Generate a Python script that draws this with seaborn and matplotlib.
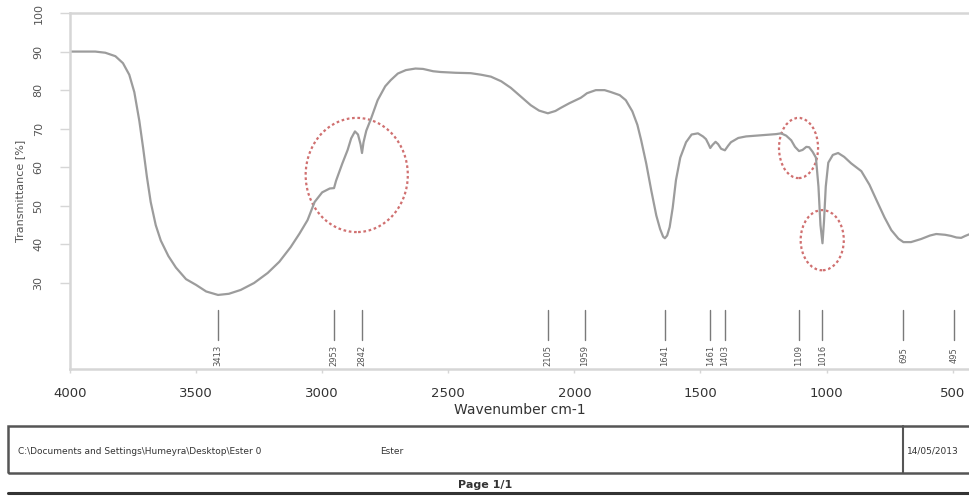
import matplotlib
matplotlib.use("Agg")
import matplotlib.pyplot as plt
from matplotlib.patches import Ellipse, Rectangle
from matplotlib.lines import Line2D
import seaborn as sns
import pandas as pd

# IR spectrum of the ester sample (wavenumber in cm-1, transmittance in %)
wavenumber = [
    4000, 3950, 3900, 3860, 3820, 3790, 3765, 3745, 3725, 3710, 3695, 3680,
    3660, 3640, 3610, 3580, 3540, 3500, 3460, 3413, 3370, 3323, 3270, 3216,
    3170, 3125, 3090, 3058, 3030, 3000, 2970, 2953, 2945, 2920, 2899, 2885,
    2870, 2858, 2848, 2842, 2836, 2825, 2808, 2780, 2750, 2728, 2700, 2668,
    2630, 2600, 2560, 2530, 2470, 2411, 2370, 2331, 2290, 2252, 2210, 2173,
    2140, 2105, 2075, 2054, 2020, 1994, 1975, 1962, 1950, 1915, 1880, 1855,
    1820, 1796, 1770, 1750, 1735, 1715, 1695, 1675, 1660, 1648, 1641, 1632,
    1622, 1610, 1597, 1580, 1557, 1535, 1510, 1490, 1478, 1468, 1461, 1452,
    1440, 1430, 1418, 1403, 1390, 1379, 1350, 1319, 1260, 1200, 1180, 1160,
    1140, 1125, 1109, 1095, 1080, 1069, 1055, 1042, 1032, 1024, 1016, 1010,
    1003, 993, 975, 954, 930, 902, 862, 830, 802, 770, 743, 715, 695, 665,
    625, 590, 565, 530, 506, 485, 466, 450, 431,
]
transmittance = [
    90.0, 90.0, 90.0, 89.7, 88.8, 87.0, 84.0, 79.5, 72.0, 65.0, 57.5, 51.0,
    45.0, 41.0, 37.0, 34.0, 31.0, 29.5, 27.8, 26.9, 27.2, 28.2, 30.0, 32.6,
    35.5, 39.3, 42.8, 46.3, 51.0, 53.5, 54.5, 54.6, 56.5, 61.0, 64.5, 67.5,
    69.3, 68.5, 66.0, 63.7, 66.5, 69.5, 72.3, 77.4, 81.0, 82.6, 84.3, 85.2,
    85.6, 85.5, 84.9, 84.7, 84.5, 84.4, 84.0, 83.5, 82.3, 80.6, 78.2, 76.1,
    74.7, 74.0, 74.6, 75.4, 76.6, 77.4, 78.0, 78.6, 79.2, 80.0, 80.0, 79.5,
    78.7, 77.4, 74.5, 71.0, 67.0, 61.0, 54.0, 47.5, 44.0, 42.0, 41.6, 42.3,
    44.5, 49.5, 56.7, 62.5, 66.5, 68.5, 68.8, 68.0, 67.3, 66.0, 65.0, 65.8,
    66.6, 66.0, 64.8, 64.4, 65.6, 66.5, 67.6, 68.0, 68.3, 68.6, 68.8, 68.2,
    67.0, 65.3, 64.2, 64.5, 65.3, 65.2, 64.0, 62.5, 55.0, 45.0, 40.3, 46.0,
    55.0, 61.2, 63.2, 63.7, 62.7, 61.0, 59.0, 55.5, 51.5, 47.0, 43.7, 41.5,
    40.6, 40.6, 41.4, 42.3, 42.7, 42.5, 42.2, 41.8, 41.7, 42.2, 42.7,
]

# Labelled absorption bands
peaks = [3413, 2953, 2842, 2105, 1959, 1641, 1461, 1403, 1109, 1016, 695, 495]
peak_labels = [str(p) for p in peaks]

x_ticks = [4000, 3500, 3000, 2500, 2000, 1500, 1000, 500]
y_ticks = [30, 40, 50, 60, 70, 80, 90, 100]

# Highlighted regions: (centre wavenumber, centre %T, width cm-1, height %T)
highlights = [
    (2863, 58.0, 405, 29.6),
    (1111, 65.0, 155, 15.6),
    (1017, 41.1, 171, 15.6),
]

file_path = "C:\\Documents and Settings\\Humeyra\\Desktop\\Ester 0"
sample_name = "Ester"
print_date = "14/05/2013"

sns.set_style("white")
plt.rcParams["font.family"] = ["DejaVu Sans"]

W, H = 969, 499
fig = plt.figure(figsize=(W / 100, H / 100), dpi=100)
fig.patch.set_facecolor("white")


def fx(px):
    return px / W


def fy(py):
    return 1 - py / H


ax = fig.add_axes([fx(70), fy(369), fx(969 - 70), (369 - 13) / H])

df = pd.DataFrame({"wavenumber": wavenumber, "transmittance": transmittance})
sns.lineplot(data=df, x="wavenumber", y="transmittance", ax=ax,
             color="#9c9c9c", linewidth=1.6, sort=False, estimator=None)

ax.set_xlim(4000, 435)
ax.set_ylim(7.7, 100)

axis_grey = "#d6d6d6"
for side in ("left", "bottom", "top"):
    ax.spines[side].set_visible(True)
    ax.spines[side].set_color(axis_grey)
    ax.spines[side].set_linewidth(1.8)
ax.spines["right"].set_visible(False)

ax.set_xticks(x_ticks)
ax.set_xticklabels([str(t) for t in x_ticks], fontsize=9.5, color="#333333")
ax.set_yticks(y_ticks)
ax.set_yticklabels([str(t) for t in y_ticks], fontsize=8, color="#555555",
                   rotation=90, va="center")
ax.tick_params(axis="y", direction="out", length=7, width=1, color=axis_grey,
               pad=12, left=True)
ax.tick_params(axis="x", direction="out", length=3, width=1, color=axis_grey,
               pad=10, bottom=True)
ax.set_xlabel("Wavenumber cm-1", fontsize=10, color="#333333", labelpad=2)
ax.set_ylabel("Transmittance [%]", fontsize=8, color="#555555", labelpad=6)

# band markers with rotated labels
for p, lab in zip(peaks, peak_labels):
    ax.plot([p, p], [15.2, 23.0], color="#7a7a7a", linewidth=1.0)
    ax.text(p, 11.2, lab, rotation=90, ha="center", va="center",
            fontsize=6, color="#555555")

for cx, cy, w, h in highlights:
    ax.add_patch(Ellipse((cx, cy), w, h, fill=False, edgecolor="#d07070",
                         linestyle=(0, (1.2, 1.2)), linewidth=1.6))

# footer: file information box and page number
box_col = "#555555"
fig.patches.append(Rectangle((fx(8), fy(473)), fx(1100), (473 - 426) / H,
                             transform=fig.transFigure, fill=False,
                             edgecolor=box_col, linewidth=1.8))
fig.lines.append(Line2D([fx(903), fx(903)], [fy(426), fy(473)],
                        transform=fig.transFigure, color=box_col,
                        linewidth=1.5))
fig.lines.append(Line2D([fx(8), fx(969)], [fy(493), fy(493)],
                        transform=fig.transFigure, color="#333333",
                        linewidth=2.2))
fig.text(fx(18), fy(451), file_path, fontsize=6.5, color="#333333",
         va="center", ha="left")
fig.text(fx(380), fy(451), sample_name, fontsize=6.5, color="#333333",
         va="center", ha="left")
fig.text(fx(907), fy(451), print_date, fontsize=6.5, color="#333333",
         va="center", ha="left")
fig.text(fx(485), fy(485), "Page 1/1", fontsize=8, fontweight="bold",
         color="#333333", va="center", ha="center")

fig.savefig("out.png", dpi=100, facecolor="white")
